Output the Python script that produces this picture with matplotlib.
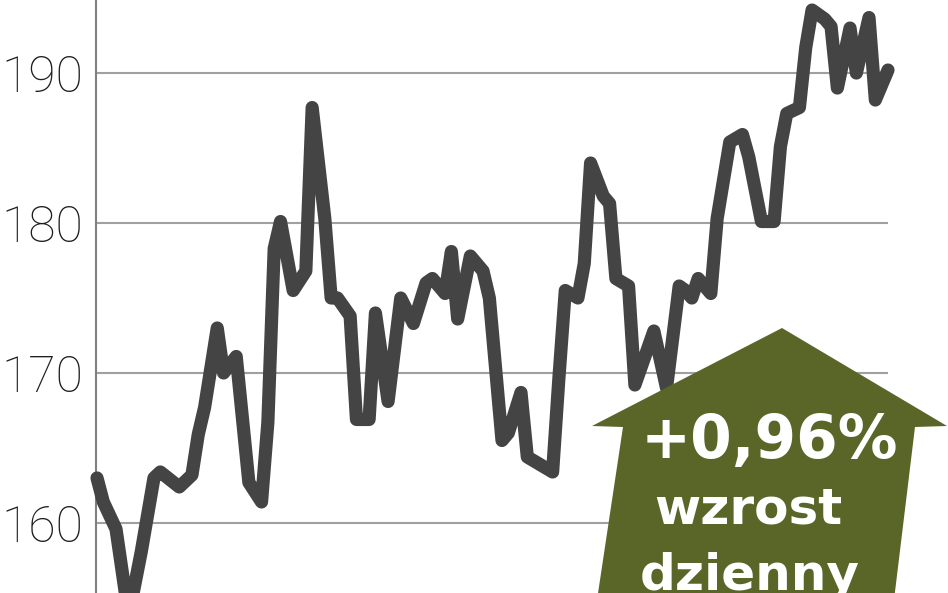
import matplotlib
matplotlib.use('Agg')
import matplotlib.pyplot as plt
from matplotlib.patches import Polygon

# session index and closing value
sessions = [0, 1, 3, 5, 7, 9, 10, 13, 15, 16, 17, 19, 20, 22, 24, 26, 27, 28, 29,
            31, 33, 34, 36, 37, 38, 40, 41, 43, 44, 46, 48, 50, 52, 53, 55, 56, 57,
            59, 60, 61, 62, 64, 65, 67, 68, 72, 73, 74, 76, 77, 78, 80, 81, 82, 84,
            85, 88, 90, 92, 93, 94, 95, 97, 98, 100, 102, 103, 105, 107, 108, 109,
            111, 112, 113, 115, 116, 117, 119, 120, 122, 123, 125]
close = [163.0, 161.4, 159.6, 153.8, 158.1, 163.0, 163.4, 162.4, 163.2, 165.9, 167.7,
         173.0, 170.0, 171.1, 162.7, 161.4, 166.7, 178.3, 180.1,
         175.5, 176.8, 187.7, 180.3, 175.0, 175.0, 173.8, 166.9, 166.9, 174.0, 168.1,
         175.0, 173.3, 176.0, 176.3, 175.3, 178.1, 173.6,
         177.8, 177.3, 176.8, 175.0, 165.5, 166.0, 168.7, 164.4, 163.4, 169.7, 175.5,
         175.0, 177.3, 184.0, 181.8, 181.3, 176.3, 175.8,
         169.2, 172.8, 169.0, 175.8, 175.5, 175.0, 176.3, 175.3, 180.3, 185.4, 185.9,
         184.4, 180.1, 180.1, 185.1, 187.3,
         187.7, 191.7, 194.2, 193.6, 193.1, 189.0, 193.0, 190.0, 193.7, 188.2, 190.2]
yticks = [160, 170, 180, 190]
badge_lines = ['+0,96%', 'wzrost', 'dzienny']

W, H = 948, 593
fig = plt.figure(figsize=(W / 100, H / 100), dpi=100)
ax = fig.add_axes([96 / W, 0, (888 - 96) / W, 1])

ax.plot(sessions, close, color='#444444', lw=9.5, solid_joinstyle='round',
        solid_capstyle='round', zorder=3, clip_on=False)

ax.set_xlim(-0.16, 125)
ax.set_ylim(155.33, 194.87)
ax.set_yticks(yticks)
ax.set_yticklabels([str(t) for t in yticks], fontsize=36, color='#1e1e1e',
                   family=['Roboto', 'DejaVu Sans'], fontweight='light')
ax.tick_params(axis='y', length=0, pad=9)
ax.set_xticks([])
ax.yaxis.grid(True, color='#a0a0a0', lw=1.5)
ax.set_axisbelow(True)
for s in ['top', 'right', 'bottom']:
    ax.spines[s].set_visible(False)
ax.spines['left'].set_color('#808080')
ax.spines['left'].set_linewidth(1.5)

# green arrow badge (pixel layout, y from top)
arrow_px = [(782, 328), (947, 426), (915, 427), (894, 600), (597, 600),
            (623, 427), (592, 426)]
arrow = Polygon([(x / W, 1 - y / H) for x, y in arrow_px], closed=True,
                transform=fig.transFigure, facecolor='#5a6628', edgecolor='none',
                zorder=5)
fig.patches.append(arrow)

fig.text(769 / W, 1 - 458 / H, badge_lines[0], color='white', fontsize=43,
         fontweight='bold', ha='center', va='baseline', zorder=6)
fig.text(748 / W, 1 - 523 / H, badge_lines[1], color='white', fontsize=36,
         fontweight='bold', ha='center', va='baseline', zorder=6)
fig.text(750 / W, 1 - 590 / H, badge_lines[2], color='white', fontsize=36,
         fontweight='bold', ha='center', va='baseline', zorder=6)

fig.savefig('out.png', dpi=100)
